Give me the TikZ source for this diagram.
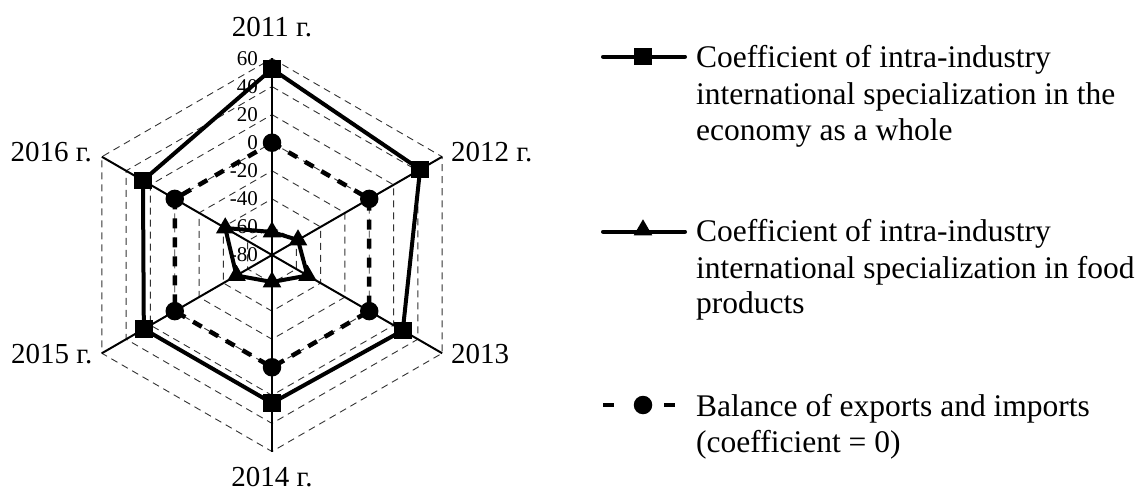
\documentclass[tikz,border=0pt]{standalone}
\usepackage{fontspec}
\setmainfont{Liberation Serif}
\usetikzlibrary{shapes.geometric}
\begin{document}
\begin{tikzpicture}[x=1pt,y=1pt,
  gridline/.style={black!80, line width=0.9pt, dash pattern=on 7pt off 5pt},
  axisline/.style={black, line width=2pt},
  seriesline/.style={black, line width=4pt, line join=round},
  zeroline/.style={black, line width=4.5pt, dash pattern=on 10pt off 9pt},
  sqmark/.style={fill=black, rectangle, minimum size=17.5pt, inner sep=0pt},
  dotmark/.style={fill=black, circle, minimum size=18.5pt, inner sep=0pt},
  trimark/.style={fill=black, regular polygon, regular polygon sides=3, minimum size=21.5pt, inner sep=0pt},
  ticklabel/.style={font=\fontsize{21}{23}\selectfont, anchor=east, inner sep=0pt},
  yearlabel/.style={font=\fontsize{29}{33}\selectfont, inner sep=0pt},
  legendtext/.style={font=\fontsize{31.5}{37}\selectfont, anchor=base west, inner sep=0pt}]
\useasboundingbox (0,0) rectangle (1143,-492);
\def\R{196.5}
\pgfmathsetmacro{\stp}{\R/7}
\begin{scope}[shift={(272,-255)}]
  \coordinate (c) at (0,0);
  % concentric hexagonal grid, -60 ... 60
  \foreach \k in {1,...,7} {
    \draw[gridline] (90:{\k*\stp}) -- (30:{\k*\stp}) -- (-30:{\k*\stp})
      -- (-90:{\k*\stp}) -- (-150:{\k*\stp}) -- (150:{\k*\stp}) -- cycle;
  }
  % spokes
  \foreach \a/\n in {90/a1,30/a2,-30/a3,-90/a4,-150/a5,150/a6} {
    \coordinate (\n) at (\a:\R);
    \draw[axisline] (c) -- (\n);
  }
  % scale values along the upper spoke
  \foreach \v [count=\i from 0] in {-80,-60,-40,-20,0,20,40,60} {
    \node[ticklabel] (t\i) at (-14,{\i*\stp}) {\v};
  }
  % zero-balance series
  \foreach \a/\n in {90/z1,30/z2,-30/z3,-90/z4,-150/z5,150/z6} {
    \coordinate (\n) at (\a:{4*\stp});
  }
  \draw[zeroline] (z1) -- (z2) -- (z3) -- (z4) -- (z5) -- (z6) -- cycle;
  \foreach \n in {z1,z2,z3,z4,z5,z6} { \node[dotmark] (m\n) at (\n) {}; }
  % whole-economy series
  \coordinate (s1) at (90:186);
  \coordinate (s2) at (30:171);
  \coordinate (s3) at (-30:151);
  \coordinate (s4) at (-90:148);
  \coordinate (s5) at (-150:148);
  \coordinate (s6) at (150:149);
  \draw[seriesline] (s1) -- (s2) -- (s3) -- (s4) -- (s5) -- (s6) -- cycle;
  \foreach \n in {s1,s2,s3,s4,s5,s6} { \node[sqmark] (m\n) at (\n) {}; }
  % food-products series
  \coordinate (f1) at (90:23);
  \coordinate (f2) at (30:30);
  \coordinate (f3) at (-30:41);
  \coordinate (f4) at (-90:27);
  \coordinate (f5) at (-150:41);
  \coordinate (f6) at (150:54);
  \draw[seriesline] (f1) -- (f2) -- (f3) -- (f4) -- (f5) -- (f6) -- cycle;
  \foreach \n in {f1,f2,f3,f4,f5,f6} { \node[trimark] (m\n) at (\n) {}; }
\end{scope}
% category labels
\node[yearlabel, anchor=base] (y1) at (272,-36.7) {2011 г.};
\node[yearlabel, anchor=base west] (y2) at (451,-161.7) {2012 г.};
\node[yearlabel, anchor=base west] (y3) at (451,-363.3) {2013};
\node[yearlabel, anchor=base] (y4) at (272,-486.5) {2014 г.};
\node[yearlabel, anchor=base east] (y5) at (92.5,-363.3) {2015 г.};
\node[yearlabel, anchor=base east] (y6) at (92,-161.7) {2016 г.};
% legend
\coordinate (la1) at (603,-56.7);
\coordinate (lb1) at (685,-56.7);
\draw[seriesline, line cap=round] (la1) -- (lb1);
\node[sqmark] (lm1) at (643,-56.7) {};
\node[legendtext] (lt1a) at (696,-68) {Coefficient of intra-industry};
\node[legendtext] (lt1b) at (696,-104.5) {international specialization in the};
\node[legendtext] (lt1c) at (696,-140.5) {economy as a whole};
\coordinate (la2) at (603,-231.7);
\coordinate (lb2) at (685,-231.7);
\draw[seriesline, line cap=round] (la2) -- (lb2);
\node[trimark] (lm2) at (643,-230) {};
\node[legendtext] (lt2a) at (696,-241.7) {Coefficient of intra-industry};
\node[legendtext] (lt2b) at (696,-278) {international specialization in food};
\node[legendtext] (lt2c) at (696,-313.5) {products};
\coordinate (la3) at (603,-405);
\coordinate (lb3) at (614,-405);
\coordinate (lc3) at (664,-405);
\coordinate (ld3) at (675,-405);
\draw[black, line width=4.5pt] (la3) -- (lb3);
\draw[black, line width=4.5pt] (lc3) -- (ld3);
\node[dotmark] (lm3) at (643,-405) {};
\node[legendtext] (lt3a) at (696,-416.7) {Balance of exports and imports};
\node[legendtext] (lt3b) at (696,-452) {(coefficient = 0)};
\end{tikzpicture}
\end{document}
